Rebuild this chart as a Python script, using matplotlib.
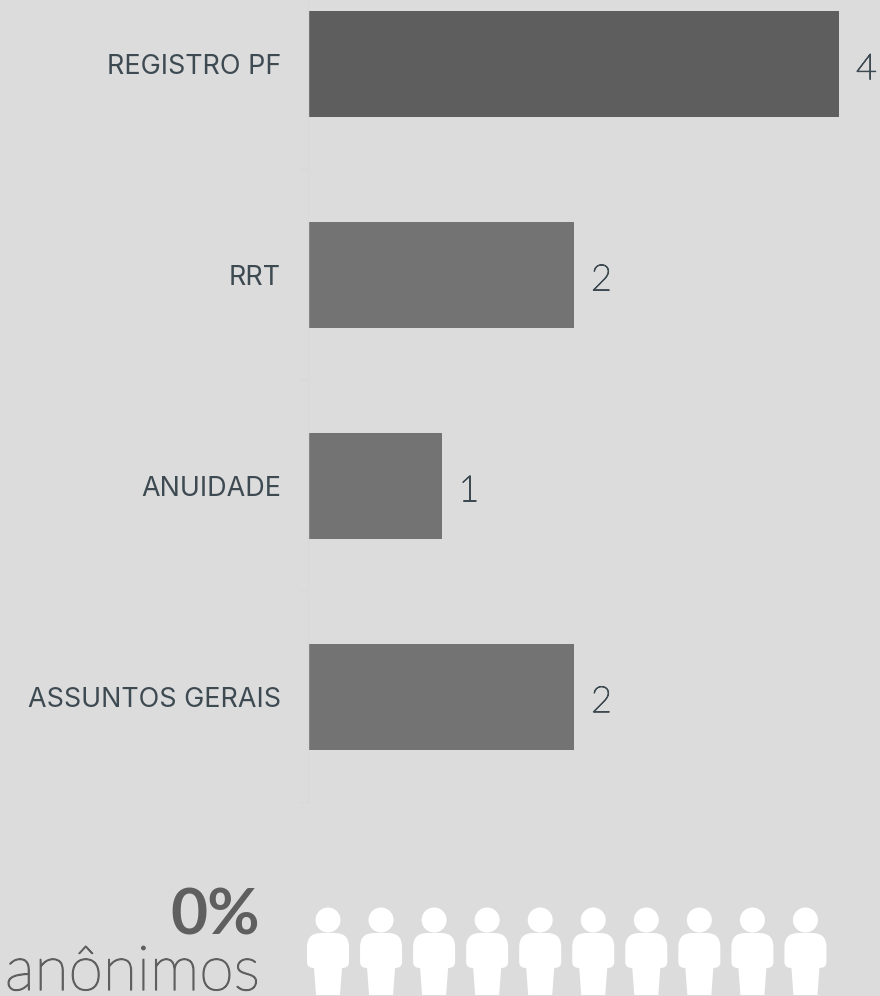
import matplotlib
matplotlib.use('Agg')
import matplotlib.pyplot as plt
import matplotlib.patheffects as pe
from matplotlib.patches import Circle, PathPatch
from matplotlib.path import Path

categories = ['REGISTRO PF', 'RRT', 'ANUIDADE', 'ASSUNTOS GERAIS']
values = [4, 2, 1, 2]
bar_colors = ['#5e5e5e', '#737373', '#737373', '#737373']
anon_pct = '0%'
anon_label = 'anônimos'
n_people = 10

BG = '#dcdcdc'
TEXT = '#3e4a52'
GREY = '#5f5f5f'
W, H = 880, 996

plt.rcParams['font.family'] = ['Lato', 'DejaVu Sans']


def person_body(cx):
    # torso with round shoulders, then the legs
    verts = [(cx - 7, 933), (cx + 7, 933),
             (cx + 21, 933), (cx + 21, 947),
             (cx + 21, 962),
             (cx + 21, 968), (cx + 14, 968),
             (cx + 12, 995), (cx - 12, 995), (cx - 14, 968),
             (cx - 21, 968), (cx - 21, 962),
             (cx - 21, 947),
             (cx - 21, 933), (cx - 7, 933), (cx - 7, 933)]
    codes = [Path.MOVETO, Path.LINETO,
             Path.CURVE3, Path.CURVE3,
             Path.LINETO,
             Path.CURVE3, Path.CURVE3,
             Path.LINETO, Path.LINETO, Path.LINETO,
             Path.CURVE3, Path.CURVE3,
             Path.LINETO,
             Path.CURVE3, Path.CURVE3, Path.CLOSEPOLY]
    return Path(verts, codes)


fig = plt.figure(figsize=(W / 100, H / 100), dpi=100, facecolor=BG)

# bar chart, the axes box is placed in pixels
ax = fig.add_axes([309 / W, 1 - 802 / H, 530 / W, 802 / H], facecolor='none')
ypos = list(range(len(categories)))
ax.barh(ypos, values, height=0.503, color=bar_colors, linewidth=0)
ax.set_xlim(0, 4)
ax.set_ylim(3.498, -0.303)
ax.set_xticks([])
ax.set_yticks([])
for s in ['top', 'right', 'bottom']:
    ax.spines[s].set_visible(False)
ax.spines['left'].set_color('#d9d9d9')
ax.spines['left'].set_linewidth(1)
ax.spines['left'].set_position(('outward', 1))
ax.set_yticks([0.5, 1.5, 2.5, 3.5], minor=True)
ax.tick_params(axis='y', which='minor', length=6, color='#d9d9d9', width=1)
ax.set_yticklabels([], minor=True)

thicker = [pe.withStroke(linewidth=0.8, foreground=TEXT)]
for y, cat, val in zip(ypos, categories, values):
    ax.annotate(cat, (0, y), xytext=(-28, -3), textcoords='offset pixels', ha='right',
                va='center', fontsize=19.4, color=TEXT, family=['Inter', 'DejaVu Sans'])
    ax.annotate(str(val), (val, y), xytext=(17, -6), textcoords='offset pixels', ha='left',
                va='center', fontsize=26, color=TEXT, fontweight='light',
                annotation_clip=False, path_effects=thicker)

# bottom strip drawn in pixel coordinates
ov = fig.add_axes([0, 0, 1, 1], facecolor='none')
ov.set_xlim(0, W)
ov.set_ylim(H, 0)
ov.axis('off')

ov.text(260, 934, anon_pct, ha='right', va='baseline', fontsize=46, color=GREY, fontweight='bold')
ov.text(260, 990, anon_label, ha='right', va='baseline', fontsize=45, color=GREY, fontweight='light',
        path_effects=[pe.withStroke(linewidth=1, foreground=GREY)])

for i in range(n_people):
    cx = 328 + i * 53.05
    ov.add_patch(Circle((cx, 920), 12.5, fc='white', ec='none'))
    ov.add_patch(PathPatch(person_body(cx), fc='white', ec='none'))

fig.savefig('out.png', dpi=100, facecolor=BG)
